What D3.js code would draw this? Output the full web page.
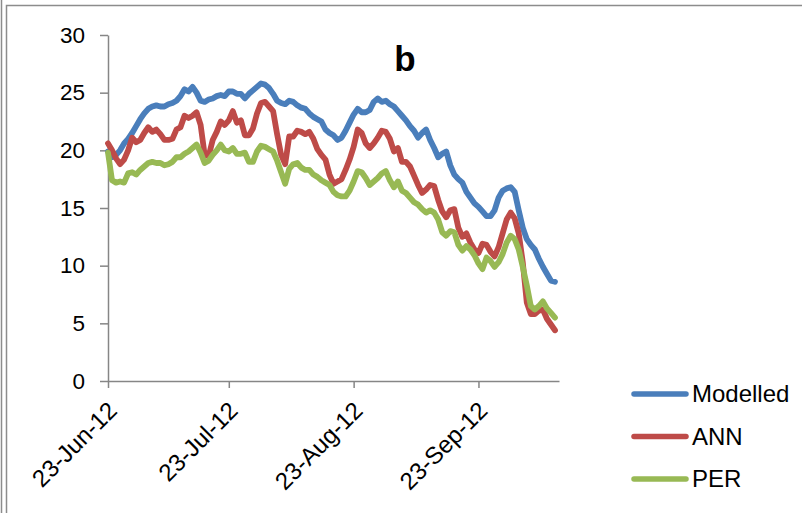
<!DOCTYPE html>
<html>
<head>
<meta charset="utf-8">
<script src="https://cdn.jsdelivr.net/npm/d3@7"></script>
<style>
  html, body { margin: 0; padding: 0; background: #fff; overflow: hidden; }
  svg { display: block; font-family: "Liberation Sans", Arial, sans-serif; }
  .axis path, .axis line { stroke: #868686; stroke-width: 1.5; }
  .axis text { fill: #000; }
  .series { fill: none; stroke-width: 5.8; stroke-linejoin: round; stroke-linecap: round; }
</style>
</head>
<body>
<div id="chart"></div>
<script>
// daily series, first value is 23-Jun-12
const startDay = "2012-06-23";
const endDay = "2012-10-13";

const modelled = [19.9, 19.4, 19.6, 20.0, 20.6, 21.0, 21.5, 22.1, 22.7, 23.2,
  23.6, 23.8, 23.9, 23.8, 23.8, 24.0, 24.1, 24.3, 24.7, 25.3,
  25.1, 25.5, 25.0, 24.3, 24.2, 24.4, 24.5, 24.7, 24.8, 24.7,
  25.1, 25.1, 24.9, 24.9, 24.5, 24.9, 25.2, 25.5, 25.8, 25.7,
  25.4, 24.9, 24.3, 24.1, 24.0, 24.3, 24.2, 23.9, 23.7, 23.6,
  23.2, 22.9, 22.7, 22.5, 21.8, 21.5, 21.3, 20.9, 21.1, 21.7,
  22.4, 23.1, 23.6, 23.3, 23.3, 23.5, 24.2, 24.5, 24.2, 24.3,
  24.0, 23.8, 23.4, 23.0, 22.6, 22.1, 21.7, 21.1, 21.5, 21.8,
  20.9, 20.2, 19.4, 19.7, 19.9, 18.7, 17.9, 17.5, 17.2, 16.4,
  15.9, 15.4, 15.1, 14.7, 14.3, 14.3, 14.8, 15.9, 16.5, 16.7,
  16.8, 16.4, 14.8, 13.3, 12.3, 11.8, 11.4, 10.6, 9.9, 9.3,
  8.7, 8.6];

const ann = [20.6, 20.0, 19.3, 18.8, 19.2, 20.0, 21.1, 20.7, 20.9, 21.5,
  22.0, 21.6, 21.8, 21.4, 20.9, 20.9, 21.0, 21.8, 22.0, 23.0,
  22.8, 23.0, 23.3, 22.2, 19.6, 19.5, 20.9, 21.6, 22.5, 22.2,
  22.6, 23.4, 22.4, 22.6, 21.3, 21.3, 21.9, 23.2, 24.1, 24.2,
  23.8, 23.4, 21.4, 19.6, 18.8, 21.2, 21.2, 21.7, 21.6, 21.4,
  21.6, 21.0, 20.1, 19.6, 19.2, 17.9, 17.1, 17.3, 17.5, 18.3,
  19.2, 20.3, 21.8, 21.5, 20.6, 20.2, 20.6, 21.1, 21.7, 21.6,
  21.0, 19.9, 20.2, 19.0, 19.0, 18.6, 17.8, 17.0, 16.3, 16.6,
  17.0, 16.9, 15.7, 14.7, 14.2, 14.8, 14.9, 13.3, 12.5, 12.8,
  12.0, 11.4, 11.1, 11.9, 11.8, 11.2, 10.8, 11.6, 12.8, 14.0,
  14.6, 14.1, 12.8, 10.3, 6.8, 5.8, 5.8, 6.1, 6.2, 5.4,
  4.9, 4.4];

const per = [19.8, 17.4, 17.2, 17.3, 17.2, 18.0, 18.1, 17.9, 18.3, 18.6,
  18.9, 19.0, 18.9, 18.9, 18.7, 18.8, 19.0, 19.4, 19.4, 19.7,
  19.9, 20.2, 20.5, 19.8, 18.9, 19.1, 19.6, 20.0, 20.5, 20.0,
  19.9, 20.2, 19.7, 19.7, 19.8, 19.0, 19.0, 19.9, 20.4, 20.3,
  20.1, 19.9, 19.1, 18.1, 17.1, 18.4, 18.8, 18.9, 18.5, 18.3,
  18.3, 17.9, 17.7, 17.4, 17.2, 17.0, 16.4, 16.1, 16.0, 16.0,
  16.5, 17.3, 18.2, 18.1, 17.6, 17.0, 17.3, 17.6, 18.0, 18.2,
  17.4, 16.8, 17.3, 16.5, 16.3, 15.9, 15.5, 15.3, 14.9, 14.6,
  14.8, 14.6, 14.0, 12.9, 12.6, 13.0, 12.9, 11.8, 11.3, 11.7,
  11.4, 10.9, 10.2, 9.7, 10.7, 10.4, 9.9, 10.3, 11.0, 12.0,
  12.6, 12.3, 11.4, 9.9, 8.3, 6.5, 6.2, 6.5, 6.9, 6.3,
  5.9, 5.5];

const seriesNames = ["Modelled", "ANN", "PER"];
const seriesColors = ["#4A7EBB", "#BE4B48", "#98B954"];
const xTickDays = ["2012-06-23", "2012-07-23", "2012-08-23", "2012-09-23"];
const yTicks = [0, 5, 10, 15, 20, 25, 30];

const width = 802, height = 513;
const parseDay = d3.timeParse("%Y-%m-%d");
const fmtDay = d3.timeFormat("%d-%b-%y");

const svg = d3.select("#chart").append("svg")
    .attr("width", width)
    .attr("height", height);

// outer frame
svg.append("line")
    .attr("x1", 1.5).attr("x2", 1.5).attr("y1", 0).attr("y2", height)
    .attr("stroke", "#8c8c8c").attr("stroke-width", 1.5);
svg.append("rect")
    .attr("x", 6.5).attr("y", 5.5)
    .attr("width", width + 20).attr("height", height + 20)
    .attr("fill", "none").attr("stroke", "#8c8c8c").attr("stroke-width", 1.5);

const x = d3.scaleTime()
    .domain([parseDay(startDay), parseDay(endDay)])
    .range([108, 559]);
const y = d3.scaleLinear()
    .domain([0, 30])
    .range([381, 35]);

const start = parseDay(startDay);
const dates = modelled.map((v, i) => d3.timeDay.offset(start, i));

// y axis
const yAxis = svg.append("g")
    .attr("class", "axis")
    .attr("transform", "translate(108,0)")
    .call(d3.axisLeft(y).tickValues(yTicks).tickSize(8).tickPadding(15).tickSizeOuter(0));
yAxis.selectAll("text").style("font-size", "22.5px");

// x axis
const xAxis = svg.append("g")
    .attr("class", "axis")
    .attr("transform", "translate(0,381)")
    .call(d3.axisBottom(x).tickValues(xTickDays.map(parseDay))
      .tickFormat(fmtDay).tickSize(7).tickSizeOuter(0));
xAxis.selectAll("text")
    .style("font-size", "24px")
    .attr("text-anchor", "end")
    .attr("y", 0).attr("dy", 0)
    .attr("transform", "translate(10,31) rotate(-45)");

// lines
const line = d3.line()
    .x((d, i) => x(dates[i]))
    .y(d => y(d));

[modelled, ann, per].forEach(function(vals, k) {
  svg.append("path")
      .datum(vals)
      .attr("class", "series")
      .attr("stroke", seriesColors[k])
      .attr("d", line);
});

// title
svg.append("text")
    .attr("x", 405).attr("y", 71)
    .attr("text-anchor", "middle")
    .style("font-size", "35px")
    .style("font-weight", "bold")
    .text("b");

// legend
const legend = svg.append("g").selectAll("g")
    .data(seriesNames)
    .enter().append("g")
    .attr("transform", (d, i) => "translate(0," + (394 + i * 42.5) + ")");
legend.append("line")
    .attr("x1", 634).attr("x2", 686)
    .attr("stroke", (d, i) => seriesColors[i])
    .attr("stroke-width", 5.5)
    .attr("stroke-linecap", "round");
legend.append("text")
    .attr("x", 692).attr("dy", "0.35em")
    .style("font-size", "24px")
    .text(d => d);
</script>
</body>
</html>
